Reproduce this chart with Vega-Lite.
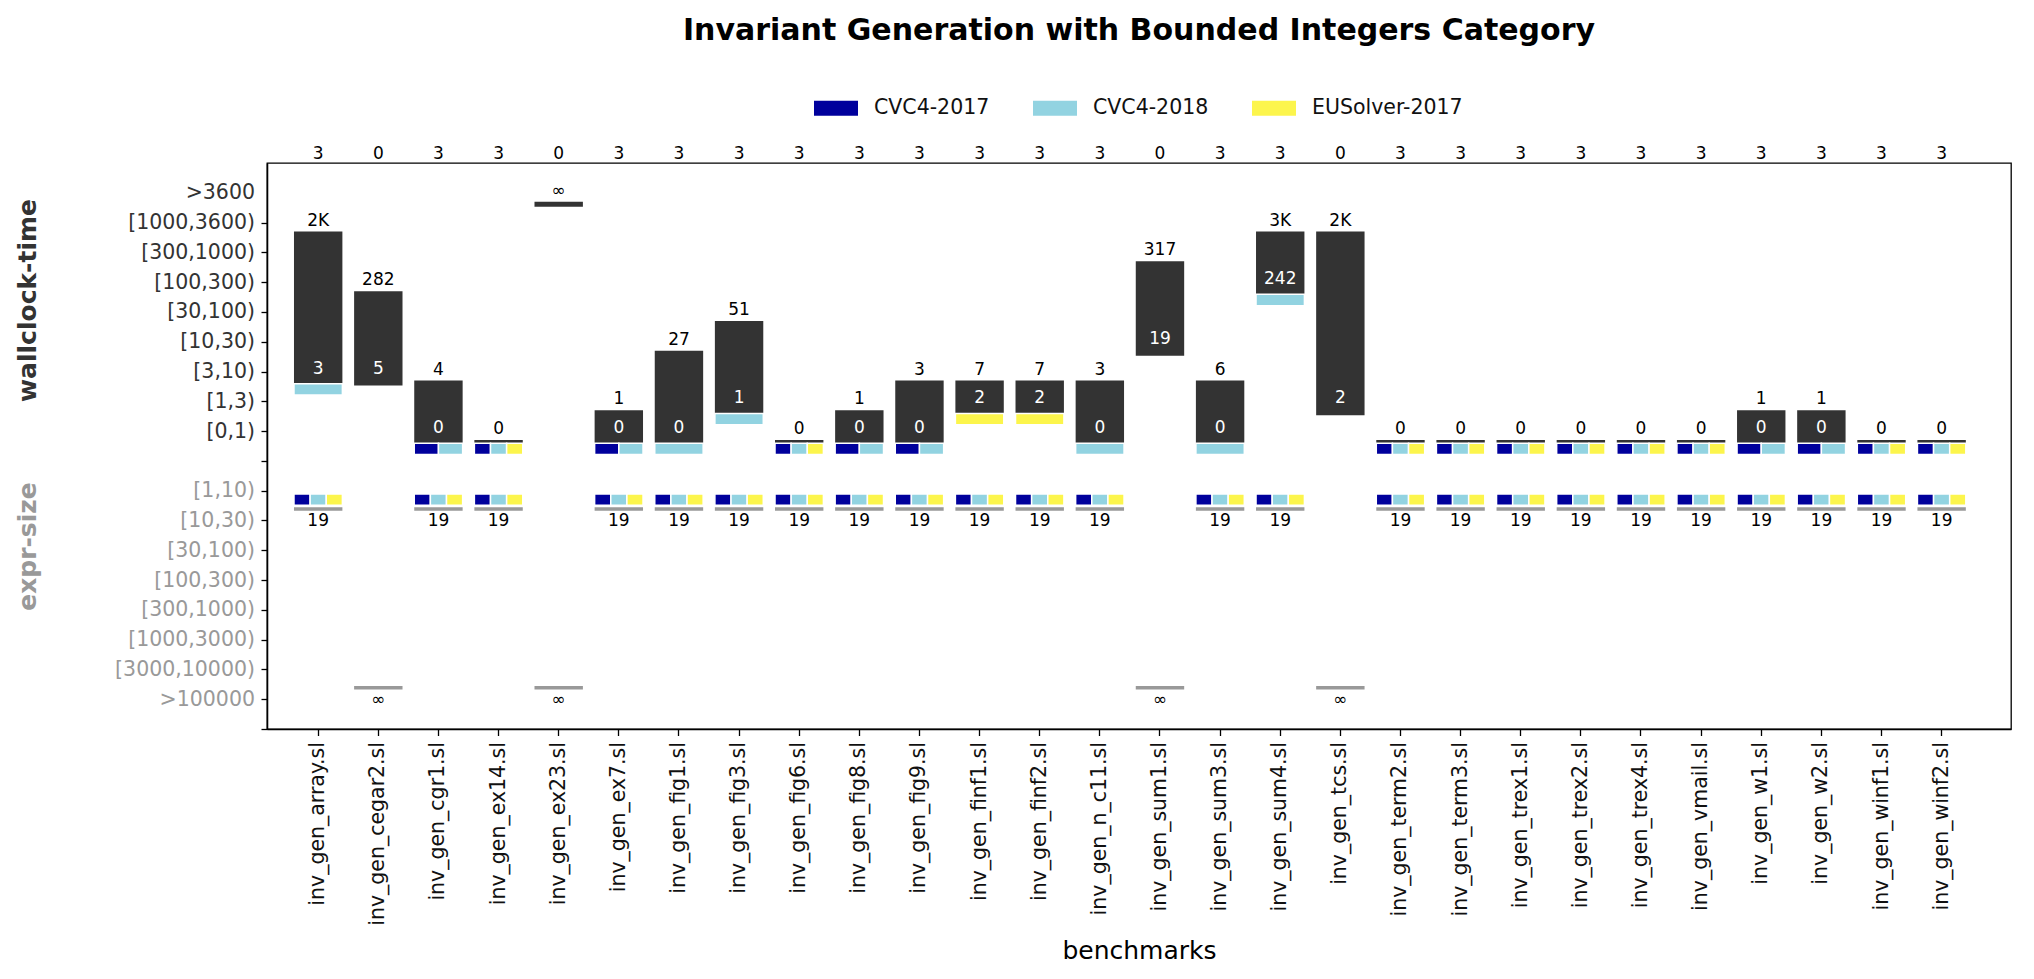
{
  "$schema": "https://vega.github.io/schema/vega-lite/v6.json",
  "width": 1744,
  "height": 566,
  "autosize": {"type": "none"},
  "padding": {"left": 267, "top": 163, "right": 23, "bottom": 250},
  "background": "white",
  "title": {"text": "Invariant Generation with Bounded Integers Category", "fontSize": 30, "fontWeight": "bold", "font": "DejaVu Sans", "anchor": "middle", "frame": "group", "color": "#000000", "offset": 40},
  "config": {
    "font": "DejaVu Sans",
    "view": {"stroke": "#000000", "strokeWidth": 1.3},
    "axis": {"domainColor": "#000000", "domainWidth": 1.3, "tickColor": "#000000", "tickWidth": 1.3, "tickSize": 6, "labelFontSize": 20.5, "grid": false, "labelFont": "DejaVu Sans", "titleFont": "DejaVu Sans"},
    "text": {"font": "DejaVu Sans"}
  },
  "data": {"name": "bench"},
  "datasets": {
    "bench": [
      {"b": "inv_gen_array.sl", "solved": 3, "tmax": "[1000,3600)", "tmaxL": "2K", "tmin": "[3,10)", "tminL": "3", "size": "[10,30)", "sizeL": "19", "tbest": ["CVC4-2018"], "sbest": ["CVC4-2017", "CVC4-2018", "EUSolver-2017"]},
      {"b": "inv_gen_cegar2.sl", "solved": 0, "tmax": "[100,300)", "tmaxL": "282", "tmin": "[3,10)", "tminL": "5", "size": ">100000", "sizeL": "∞", "tbest": [], "sbest": []},
      {"b": "inv_gen_cgr1.sl", "solved": 3, "tmax": "[3,10)", "tmaxL": "4", "tmin": "[0,1)", "tminL": "0", "size": "[10,30)", "sizeL": "19", "tbest": ["CVC4-2017", "CVC4-2018"], "sbest": ["CVC4-2017", "CVC4-2018", "EUSolver-2017"]},
      {"b": "inv_gen_ex14.sl", "solved": 3, "tmax": "[0,1)", "tmaxL": "0", "tmin": "[0,1)", "tminL": null, "size": "[10,30)", "sizeL": "19", "tbest": ["CVC4-2017", "CVC4-2018", "EUSolver-2017"], "sbest": ["CVC4-2017", "CVC4-2018", "EUSolver-2017"]},
      {"b": "inv_gen_ex23.sl", "solved": 0, "tmax": ">3600", "tmaxL": "∞", "tmin": ">3600", "tminL": null, "size": ">100000", "sizeL": "∞", "tbest": [], "sbest": []},
      {"b": "inv_gen_ex7.sl", "solved": 3, "tmax": "[1,3)", "tmaxL": "1", "tmin": "[0,1)", "tminL": "0", "size": "[10,30)", "sizeL": "19", "tbest": ["CVC4-2017", "CVC4-2018"], "sbest": ["CVC4-2017", "CVC4-2018", "EUSolver-2017"]},
      {"b": "inv_gen_fig1.sl", "solved": 3, "tmax": "[10,30)", "tmaxL": "27", "tmin": "[0,1)", "tminL": "0", "size": "[10,30)", "sizeL": "19", "tbest": ["CVC4-2018"], "sbest": ["CVC4-2017", "CVC4-2018", "EUSolver-2017"]},
      {"b": "inv_gen_fig3.sl", "solved": 3, "tmax": "[30,100)", "tmaxL": "51", "tmin": "[1,3)", "tminL": "1", "size": "[10,30)", "sizeL": "19", "tbest": ["CVC4-2018"], "sbest": ["CVC4-2017", "CVC4-2018", "EUSolver-2017"]},
      {"b": "inv_gen_fig6.sl", "solved": 3, "tmax": "[0,1)", "tmaxL": "0", "tmin": "[0,1)", "tminL": null, "size": "[10,30)", "sizeL": "19", "tbest": ["CVC4-2017", "CVC4-2018", "EUSolver-2017"], "sbest": ["CVC4-2017", "CVC4-2018", "EUSolver-2017"]},
      {"b": "inv_gen_fig8.sl", "solved": 3, "tmax": "[1,3)", "tmaxL": "1", "tmin": "[0,1)", "tminL": "0", "size": "[10,30)", "sizeL": "19", "tbest": ["CVC4-2017", "CVC4-2018"], "sbest": ["CVC4-2017", "CVC4-2018", "EUSolver-2017"]},
      {"b": "inv_gen_fig9.sl", "solved": 3, "tmax": "[3,10)", "tmaxL": "3", "tmin": "[0,1)", "tminL": "0", "size": "[10,30)", "sizeL": "19", "tbest": ["CVC4-2017", "CVC4-2018"], "sbest": ["CVC4-2017", "CVC4-2018", "EUSolver-2017"]},
      {"b": "inv_gen_finf1.sl", "solved": 3, "tmax": "[3,10)", "tmaxL": "7", "tmin": "[1,3)", "tminL": "2", "size": "[10,30)", "sizeL": "19", "tbest": ["EUSolver-2017"], "sbest": ["CVC4-2017", "CVC4-2018", "EUSolver-2017"]},
      {"b": "inv_gen_finf2.sl", "solved": 3, "tmax": "[3,10)", "tmaxL": "7", "tmin": "[1,3)", "tminL": "2", "size": "[10,30)", "sizeL": "19", "tbest": ["EUSolver-2017"], "sbest": ["CVC4-2017", "CVC4-2018", "EUSolver-2017"]},
      {"b": "inv_gen_n_c11.sl", "solved": 3, "tmax": "[3,10)", "tmaxL": "3", "tmin": "[0,1)", "tminL": "0", "size": "[10,30)", "sizeL": "19", "tbest": ["CVC4-2018"], "sbest": ["CVC4-2017", "CVC4-2018", "EUSolver-2017"]},
      {"b": "inv_gen_sum1.sl", "solved": 0, "tmax": "[300,1000)", "tmaxL": "317", "tmin": "[10,30)", "tminL": "19", "size": ">100000", "sizeL": "∞", "tbest": [], "sbest": []},
      {"b": "inv_gen_sum3.sl", "solved": 3, "tmax": "[3,10)", "tmaxL": "6", "tmin": "[0,1)", "tminL": "0", "size": "[10,30)", "sizeL": "19", "tbest": ["CVC4-2018"], "sbest": ["CVC4-2017", "CVC4-2018", "EUSolver-2017"]},
      {"b": "inv_gen_sum4.sl", "solved": 3, "tmax": "[1000,3600)", "tmaxL": "3K", "tmin": "[100,300)", "tminL": "242", "size": "[10,30)", "sizeL": "19", "tbest": ["CVC4-2018"], "sbest": ["CVC4-2017", "CVC4-2018", "EUSolver-2017"]},
      {"b": "inv_gen_tcs.sl", "solved": 0, "tmax": "[1000,3600)", "tmaxL": "2K", "tmin": "[1,3)", "tminL": "2", "size": ">100000", "sizeL": "∞", "tbest": [], "sbest": []},
      {"b": "inv_gen_term2.sl", "solved": 3, "tmax": "[0,1)", "tmaxL": "0", "tmin": "[0,1)", "tminL": null, "size": "[10,30)", "sizeL": "19", "tbest": ["CVC4-2017", "CVC4-2018", "EUSolver-2017"], "sbest": ["CVC4-2017", "CVC4-2018", "EUSolver-2017"]},
      {"b": "inv_gen_term3.sl", "solved": 3, "tmax": "[0,1)", "tmaxL": "0", "tmin": "[0,1)", "tminL": null, "size": "[10,30)", "sizeL": "19", "tbest": ["CVC4-2017", "CVC4-2018", "EUSolver-2017"], "sbest": ["CVC4-2017", "CVC4-2018", "EUSolver-2017"]},
      {"b": "inv_gen_trex1.sl", "solved": 3, "tmax": "[0,1)", "tmaxL": "0", "tmin": "[0,1)", "tminL": null, "size": "[10,30)", "sizeL": "19", "tbest": ["CVC4-2017", "CVC4-2018", "EUSolver-2017"], "sbest": ["CVC4-2017", "CVC4-2018", "EUSolver-2017"]},
      {"b": "inv_gen_trex2.sl", "solved": 3, "tmax": "[0,1)", "tmaxL": "0", "tmin": "[0,1)", "tminL": null, "size": "[10,30)", "sizeL": "19", "tbest": ["CVC4-2017", "CVC4-2018", "EUSolver-2017"], "sbest": ["CVC4-2017", "CVC4-2018", "EUSolver-2017"]},
      {"b": "inv_gen_trex4.sl", "solved": 3, "tmax": "[0,1)", "tmaxL": "0", "tmin": "[0,1)", "tminL": null, "size": "[10,30)", "sizeL": "19", "tbest": ["CVC4-2017", "CVC4-2018", "EUSolver-2017"], "sbest": ["CVC4-2017", "CVC4-2018", "EUSolver-2017"]},
      {"b": "inv_gen_vmail.sl", "solved": 3, "tmax": "[0,1)", "tmaxL": "0", "tmin": "[0,1)", "tminL": null, "size": "[10,30)", "sizeL": "19", "tbest": ["CVC4-2017", "CVC4-2018", "EUSolver-2017"], "sbest": ["CVC4-2017", "CVC4-2018", "EUSolver-2017"]},
      {"b": "inv_gen_w1.sl", "solved": 3, "tmax": "[1,3)", "tmaxL": "1", "tmin": "[0,1)", "tminL": "0", "size": "[10,30)", "sizeL": "19", "tbest": ["CVC4-2017", "CVC4-2018"], "sbest": ["CVC4-2017", "CVC4-2018", "EUSolver-2017"]},
      {"b": "inv_gen_w2.sl", "solved": 3, "tmax": "[1,3)", "tmaxL": "1", "tmin": "[0,1)", "tminL": "0", "size": "[10,30)", "sizeL": "19", "tbest": ["CVC4-2017", "CVC4-2018"], "sbest": ["CVC4-2017", "CVC4-2018", "EUSolver-2017"]},
      {"b": "inv_gen_winf1.sl", "solved": 3, "tmax": "[0,1)", "tmaxL": "0", "tmin": "[0,1)", "tminL": null, "size": "[10,30)", "sizeL": "19", "tbest": ["CVC4-2017", "CVC4-2018", "EUSolver-2017"], "sbest": ["CVC4-2017", "CVC4-2018", "EUSolver-2017"]},
      {"b": "inv_gen_winf2.sl", "solved": 3, "tmax": "[0,1)", "tmaxL": "0", "tmin": "[0,1)", "tminL": null, "size": "[10,30)", "sizeL": "19", "tbest": ["CVC4-2017", "CVC4-2018", "EUSolver-2017"], "sbest": ["CVC4-2017", "CVC4-2018", "EUSolver-2017"]}
    ]
  },
  "layer": [
    {
      "layer": [
        {
          "mark": {"type": "rect", "color": "#333333", "yOffset": 9, "y2Offset": 14},
          "encoding": {
            "x": {"field": "b", "type": "nominal", "sort": null,
              "scale": {"type": "band", "paddingInner": 0.195, "paddingOuter": 0.6, "align": 0.374},
              "axis": {"title": "benchmarks", "titleFontSize": 25, "titleFontWeight": "normal", "titleColor": "#000000", "titleY": 221, "titleBaseline": "middle", "labelAngle": -90, "labelAlign": "right", "labelBaseline": "middle", "labelFontSize": 20.5, "labelColor": "#111111", "labelPadding": 6, "labelLimit": 0, "tickSize": 6.5}},
            "y": {"field": "tmax", "type": "ordinal",
              "scale": {"type": "point", "domain": [">3600", "[1000,3600)", "[300,1000)", "[100,300)", "[30,100)", "[10,30)", "[3,10)", "[1,3)", "[0,1)", "r10", "r11", "r12", "r13", "r14", "r15", "r16", "r17", "r18", "r19"], "padding": 0.5, "align": 1},
              "axis": {"orient": "left", "values": [">3600", "[1000,3600)", "[300,1000)", "[100,300)", "[30,100)", "[10,30)", "[3,10)", "[1,3)", "[0,1)", "r10"], "labelExpr": "datum.value == 'r10' ? '' : datum.label", "title": "wallclock-time", "titleFontSize": 25, "titleFontWeight": "bold", "titleColor": "#333333", "titleX": -240, "titleY": 137, "titleAngle": -90, "titleBaseline": "middle", "titleAlign": "center", "labelColor": "#333333", "labelFontSize": 20.5, "labelPadding": 6.5, "tickColor": {"condition": {"test": "datum.value === '>3600'", "value": "transparent"}, "value": "#000000"}}},
            "y2": {"field": "tmin"}
          }
        },
        {
          "transform": [
            {"flatten": ["tbest"], "as": ["solver"]},
            {"joinaggregate": [{"op": "count", "as": "n"}], "groupby": ["b"]},
            {"filter": "datum.n == 1"}
          ],
          "mark": {"type": "rect", "stroke": "white", "strokeWidth": 1.5, "yOffset": 12.2, "y2Offset": 23.5},
          "encoding": {
            "x": {"field": "b", "type": "nominal", "sort": null},
            "y": {"field": "tmin", "type": "ordinal"},
            "y2": {"field": "tmin"},
            "color": {"field": "solver", "type": "nominal",
              "scale": {"domain": ["CVC4-2017", "CVC4-2018", "EUSolver-2017"], "range": ["#00009c", "#92d3e1", "#fcf54c"]},
              "legend": {"orient": "none", "legendX": 547, "legendY": -77, "direction": "horizontal", "title": null, "symbolType": "M-1,-0.34H1V0.34H-1Z", "symbolSize": 1936, "labelFontSize": 20.5, "labelColor": "#111111", "labelOffset": 16, "columnPadding": 43, "symbolStrokeWidth": 0, "symbolOpacity": 1, "padding": 0}}
          }
        },
        {
          "transform": [
            {"flatten": ["tbest"], "as": ["solver"]},
            {"joinaggregate": [{"op": "count", "as": "n"}], "groupby": ["b"]},
            {"filter": "datum.n == 2"}
          ],
          "mark": {"type": "rect", "stroke": "white", "strokeWidth": 1.5, "yOffset": 12.2, "y2Offset": 23.5},
          "encoding": {
            "x": {"field": "b", "type": "nominal", "sort": null},
            "xOffset": {"field": "solver", "type": "nominal", "scale": {"paddingInner": 0, "paddingOuter": 0}},
            "y": {"field": "tmin", "type": "ordinal"},
            "y2": {"field": "tmin"},
            "color": {"field": "solver", "type": "nominal"}
          }
        },
        {
          "transform": [
            {"flatten": ["tbest"], "as": ["solver"]},
            {"joinaggregate": [{"op": "count", "as": "n"}], "groupby": ["b"]},
            {"filter": "datum.n == 3"}
          ],
          "mark": {"type": "rect", "stroke": "white", "strokeWidth": 1.5, "yOffset": 12.2, "y2Offset": 23.5},
          "encoding": {
            "x": {"field": "b", "type": "nominal", "sort": null},
            "xOffset": {"field": "solver", "type": "nominal", "scale": {"paddingInner": 0, "paddingOuter": 0}},
            "y": {"field": "tmin", "type": "ordinal"},
            "y2": {"field": "tmin"},
            "color": {"field": "solver", "type": "nominal"}
          }
        },
        {
          "mark": {"type": "text", "fontSize": 17, "color": "#000000", "baseline": "middle", "dy": -2},
          "encoding": {
            "x": {"field": "b", "type": "nominal", "sort": null},
            "y": {"field": "tmax", "type": "ordinal"},
            "text": {"field": "tmaxL"}
          }
        },
        {
          "transform": [{"filter": "datum.tminL != null"}],
          "mark": {"type": "text", "fontSize": 17, "color": "#ffffff", "baseline": "middle", "dy": -3},
          "encoding": {
            "x": {"field": "b", "type": "nominal", "sort": null},
            "y": {"field": "tmin", "type": "ordinal"},
            "text": {"field": "tminL"}
          }
        },
        {
          "mark": {"type": "text", "fontSize": 17, "color": "#000000", "baseline": "middle", "dy": -39},
          "encoding": {
            "x": {"field": "b", "type": "nominal", "sort": null},
            "y": {"datum": ">3600", "type": "ordinal"},
            "text": {"field": "solved"}
          }
        }
      ],
      "resolve": {"scale": {"xOffset": "independent"}}
    },
    {
      "layer": [
        {
          "mark": {"type": "rect", "color": "#999999", "yOffset": -13.1, "y2Offset": -9.8},
          "encoding": {
            "x": {"field": "b", "type": "nominal", "sort": null},
            "y": {"field": "size", "type": "ordinal",
              "scale": {"type": "point", "domain": ["q1", "q2", "q3", "q4", "q5", "q6", "q7", "q8", "q9", "q10", "[1,10)", "[10,30)", "[30,100)", "[100,300)", "[300,1000)", "[1000,3000)", "[3000,10000)", ">100000", "q19"], "padding": 0.5, "align": 1},
              "axis": {"orient": "left", "values": ["[1,10)", "[10,30)", "[30,100)", "[100,300)", "[300,1000)", "[1000,3000)", "[3000,10000)", ">100000", "q19"], "labelExpr": "datum.value == 'q19' ? '' : datum.label", "title": "expr-size", "titleFontSize": 25, "titleFontWeight": "bold", "titleColor": "#999999", "titleX": -240, "titleY": 383, "titleAngle": -90, "titleBaseline": "middle", "titleAlign": "center", "labelColor": "#999999", "labelFontSize": 20.5, "labelPadding": 6.5}},
            "y2": {"field": "size"}
          }
        },
        {
          "transform": [{"flatten": ["sbest"], "as": ["solver"]}],
          "mark": {"type": "rect", "stroke": "white", "strokeWidth": 1.5, "yOffset": -26.5, "y2Offset": -15.1},
          "encoding": {
            "x": {"field": "b", "type": "nominal", "sort": null},
            "xOffset": {"field": "solver", "type": "nominal", "scale": {"paddingInner": 0, "paddingOuter": 0}},
            "y": {"field": "size", "type": "ordinal"},
            "y2": {"field": "size"},
            "color": {"field": "solver", "type": "nominal"}
          }
        },
        {
          "mark": {"type": "text", "fontSize": 17, "color": "#000000", "baseline": "middle", "dy": 1},
          "encoding": {
            "x": {"field": "b", "type": "nominal", "sort": null},
            "y": {"field": "size", "type": "ordinal"},
            "text": {"field": "sizeL"}
          }
        }
      ]
    }
  ],
  "resolve": {"scale": {"y": "independent", "xOffset": "independent"}, "axis": {"y": "independent"}}
}
